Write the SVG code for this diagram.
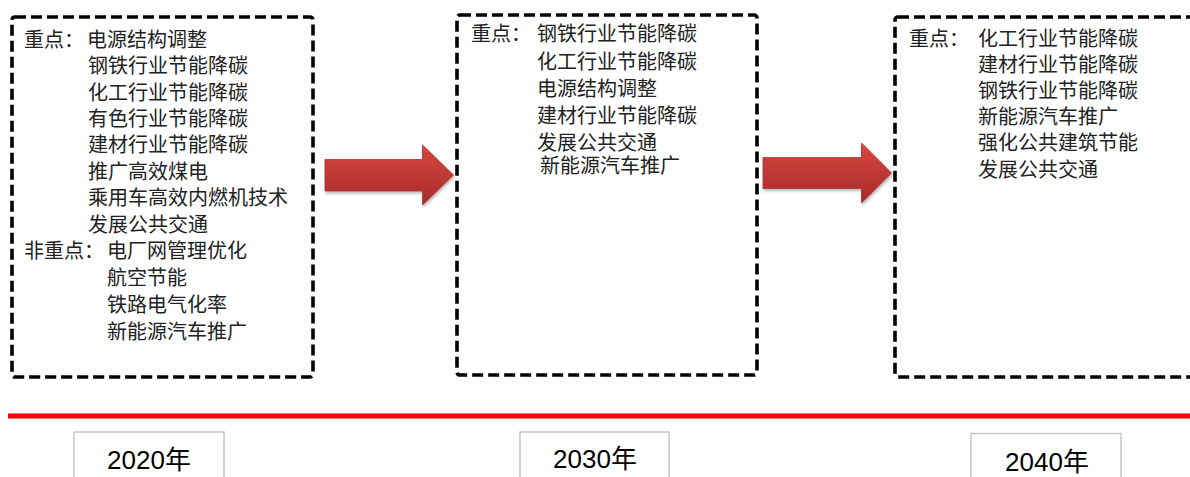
<svg xmlns="http://www.w3.org/2000/svg" width="1190" height="477" viewBox="0 0 1190 477">
<style>
.box{fill:none;stroke:#000;stroke-width:3.6;stroke-dasharray:11 5;}
.t{font-family:"Noto Sans CJK SC","Noto Sans CJK JP",sans-serif;font-size:20px;fill:#222;}
.yr{fill:#fff;stroke:#c4c4c4;stroke-width:1.4;}
.yt{font-family:"Liberation Sans","Noto Sans CJK SC",sans-serif;font-size:26px;fill:#000;text-anchor:middle;}
.arrow{fill:url(#ag);stroke:#b03030;stroke-width:0.8;filter:url(#sh);}
</style>
<defs>
<linearGradient id="ag" x1="0" y1="0" x2="0" y2="1">
<stop offset="0" stop-color="#d8473f"/>
<stop offset="1" stop-color="#a72a2a"/>
</linearGradient>
<filter id="sh" x="-10%" y="-10%" width="130%" height="140%">
<feDropShadow dx="1" dy="2" stdDeviation="1.5" flood-color="#000" flood-opacity="0.3"/>
</filter>
</defs>
<rect width="1190" height="477" fill="#fff"/>

<g id="box2020">
<rect class="box" x="12" y="17" width="301" height="360" rx="3"/>
<text class="t" x="24" y="47">重点：<tspan x="87">电源结构调整</tspan></text>
<text class="t" x="88" y="73">钢铁行业节能降碳</text>
<text class="t" x="88" y="99.5">化工行业节能降碳</text>
<text class="t" x="88" y="126">有色行业节能降碳</text>
<text class="t" x="88" y="152">建材行业节能降碳</text>
<text class="t" x="88" y="178.5">推广高效煤电</text>
<text class="t" x="88" y="205">乘用车高效内燃机技术</text>
<text class="t" x="88" y="231.5">发展公共交通</text>
<text class="t" x="24" y="258">非重点：<tspan x="107">电厂网管理优化</tspan></text>
<text class="t" x="107" y="285">航空节能</text>
<text class="t" x="107" y="311.5">铁路电气化率</text>
<text class="t" x="107" y="338.5">新能源汽车推广</text>
</g>

<g id="box2030">
<rect class="box" x="457" y="15" width="300" height="360" rx="3"/>
<text class="t" x="471" y="41">重点：<tspan x="537">钢铁行业节能降碳</tspan></text>
<text class="t" x="537" y="69">化工行业节能降碳</text>
<text class="t" x="537" y="96">电源结构调整</text>
<text class="t" x="537" y="123">建材行业节能降碳</text>
<text class="t" x="537" y="150">发展公共交通</text>
<text class="t" x="540" y="173">新能源汽车推广</text>
</g>

<g id="box2040">
<rect class="box" x="895" y="17" width="310" height="360" rx="3"/>
<text class="t" x="909" y="46">重点：<tspan x="978">化工行业节能降碳</tspan></text>
<text class="t" x="978" y="72">建材行业节能降碳</text>
<text class="t" x="978" y="97.5">钢铁行业节能降碳</text>
<text class="t" x="978" y="124">新能源汽车推广</text>
<text class="t" x="978" y="150">强化公共建筑节能</text>
<text class="t" x="978" y="177">发展公共交通</text>
</g>

<g id="connectors">
<path class="arrow" d="M325,159.5 L422.5,159.5 L422.5,145 L453.5,175 L422.5,205 L422.5,191 L325,191 Z"/>
<path class="arrow" d="M763,157.5 L861.5,157.5 L861.5,143 L891.5,173 L861.5,203 L861.5,188.5 L763,188.5 Z"/>
</g>

<g id="timeline">
<line x1="8" y1="416" x2="1190" y2="416" stroke="#ff0000" stroke-width="5"/>
</g>

<g id="year2020">
<rect class="yr" x="74" y="432" width="150" height="60"/>
<text class="yt" x="149" y="469">2020年</text>
</g>
<g id="year2030">
<rect class="yr" x="520" y="432" width="149" height="60"/>
<text class="yt" x="595" y="468">2030年</text>
</g>
<g id="year2040">
<rect class="yr" x="971" y="433.5" width="150" height="60"/>
<text class="yt" x="1047" y="470.5">2040年</text>
</g>
</svg>
